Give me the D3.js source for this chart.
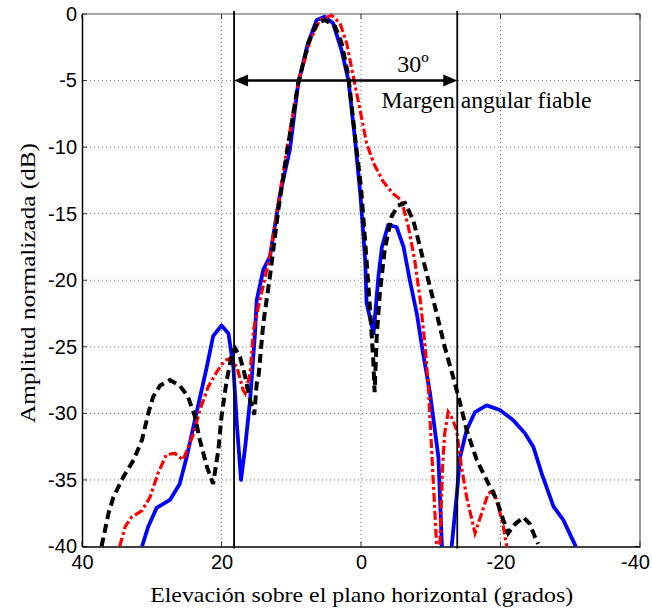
<!DOCTYPE html>
<html><head><meta charset="utf-8">
<script src="https://cdn.jsdelivr.net/npm/d3@7/dist/d3.min.js"></script>
<style>body{margin:0;background:#fff}</style>
</head><body>
<svg id="c" width="652" height="609"></svg>
<script>
// ---- data (elevation deg, normalized amplitude dB) ----
const xTicks = [40, 20, 0, -20, -40];
const yTicks = [0, -5, -10, -15, -20, -25, -30, -35, -40];
const xLabel = "Elevación sobre el plano horizontal (grados)";
const yLabel = "Amplitud normalizada (dB)";
const marginLines = [18.2, -13.8];
const arrowLevel = -5;
const annotAngle = "30º";
const annotText = "Margen angular fiable";

const blueSeries = [
[31.4,-40],[30.5,-38.5],[29.3,-37.1],[27.4,-36.5],[26.0,-35.3],[25.0,-33.3],[23.6,-30.0],[22.1,-26.5],
[21.2,-24.2],[20.0,-23.4],[19.0,-24.0],[18.3,-26.5],[17.8,-30.8],[17.2,-35.0],[16.6,-32.5],[15.9,-29.0],
[15.2,-24.0],[14.95,-21.5],[14.0,-19.2],[13.05,-18.2],[11.6,-13.5],[10.2,-10.2],[9.0,-5.2],[7.6,-2.2],
[6.35,-0.45],[5.2,-0.2],[4.0,-0.7],[2.8,-2.7],[1.8,-5.0],[0.9,-9.2],[0.1,-13.5],[-0.6,-18.5],
[-0.8,-21.7],[-1.8,-24.0],[-2.5,-19.7],[-3.0,-17.5],[-3.9,-15.85],[-5.1,-16.0],[-6.1,-17.5],[-7.0,-20.0],
[-8.0,-22.5],[-8.9,-25.5],[-9.9,-28.5],[-11.1,-33.3],[-11.6,-40],[-12.3,-46],[-13.0,-40],[-13.7,-36.3],
[-14.2,-33.3],[-15.15,-31.25],[-16.35,-29.9],[-18.0,-29.4],[-19.9,-29.75],[-21.8,-30.5],[-23.5,-31.5],
[-24.7,-32.5],[-25.9,-34.5],[-27.6,-37.0],[-29.0,-38.0],[-30.7,-39.9],[-31.0,-40.3]
];
const redSeries = [
[34.6,-40],[33.8,-38.5],[32.9,-37.8],[31.4,-37.3],[30.25,-36.3],[29.1,-34.5],[27.9,-33.1],[26.7,-33.0],
[25.5,-33.5],[24.0,-31.5],[23.1,-29.75],[21.9,-28.0],[20.7,-26.9],[19.5,-26.0],[18.8,-25.9],[17.8,-26.5],
[16.9,-28.25],[16.6,-28.5],[15.9,-27.0],[15.4,-23.7],[14.5,-21.5],[13.05,-18.2],[12.0,-14.7],[10.65,-10.2],
[9.0,-5.2],[7.3,-2.0],[5.9,-0.45],[4.2,-0.1],[3.0,-0.7],[2.05,-2.2],[1.1,-4.7],[0.14,-7.2],
[-0.8,-9.7],[-1.8,-11.2],[-3.2,-12.6],[-4.6,-13.5],[-5.8,-14.0],[-6.8,-16.0],[-7.7,-18.5],[-8.5,-21.5],
[-9.2,-25.0],[-9.65,-28.0],[-10.1,-32.5],[-10.6,-37.5],[-10.85,-40],[-11.0,-44],[-11.3,-40],[-11.7,-34],
[-12.0,-31.5],[-12.5,-29.9],[-13.0,-30.3],[-13.7,-31.25],[-14.4,-34.0],[-15.15,-36.3],[-16.35,-39.0],
[-17.3,-37.5],[-18.25,-36.0],[-19.0,-35.8],[-19.7,-37.0],[-20.4,-38.5],[-20.9,-40],[-21.0,-40.5]
];
const blackSeries = [
[37.2,-40],[36.2,-37.5],[35.5,-36.3],[34.1,-34.8],[32.6,-33.5],[31.4,-32.0],[30.5,-30.0],[29.8,-28.75],
[28.8,-27.9],[27.4,-27.5],[26.0,-27.9],[24.8,-28.75],[23.8,-30.25],[23.1,-32.0],[22.1,-34.0],[21.2,-35.3],
[20.45,-32.75],[20.0,-30.25],[19.25,-27.5],[18.5,-25.5],[18.07,-25.1],[17.35,-25.75],[16.6,-27.25],
[15.9,-29.0],[15.3,-30.1],[14.95,-27.75],[14.7,-27.25],[14.0,-23.2],[13.05,-19.7],[11.85,-14.7],
[10.4,-9.7],[9.0,-5.2],[7.56,-2.2],[6.35,-0.7],[5.16,-0.45],[3.7,-0.95],[2.77,-2.2],[1.8,-4.7],
[0.86,-9.2],[0.0,-13.0],[-0.8,-18.5],[-1.3,-22.2],[-1.76,-26],[-1.95,-28.4],[-2.25,-24.25],[-2.7,-21.0],
[-3.4,-17.7],[-4.4,-15.2],[-5.3,-14.4],[-6.3,-14.2],[-7.5,-15.5],[-8.46,-17.5],[-9.65,-20.0],
[-10.85,-22.5],[-12.0,-25.0],[-13.2,-27.25],[-14.0,-28.8],[-15.15,-31.25],[-16.6,-33.5],[-18.0,-35.0],
[-19.45,-36.5],[-20.4,-38.0],[-21.1,-39.0],[-22.1,-38.3],[-23.3,-37.8],[-24.2,-38.3],[-24.95,-39.3],
[-25.4,-39.8]
];

// ---- layout ----
const L = 82, R = 640, T = 14, B = 546.5;
const svg = d3.select("#c");
const x = d3.scaleLinear().domain([40, -40]).range([L, R]);
const y = d3.scaleLinear().domain([-40, 0]).range([B, T]);

svg.append("defs").append("clipPath").attr("id","clip")
  .append("rect").attr("x",L).attr("y",T-2).attr("width",R-L).attr("height",B-T+2);

// grid
const grid = svg.append("g").attr("stroke","#777").attr("stroke-width",1).attr("stroke-dasharray","1,3");
grid.selectAll(".gx").data(xTicks.slice(1,-1)).enter().append("line")
  .attr("x1",d=>x(d)).attr("x2",d=>x(d)).attr("y1",T).attr("y2",B);
grid.selectAll(".gy").data(yTicks.slice(1,-1)).enter().append("line")
  .attr("y1",d=>y(d)).attr("y2",d=>y(d)).attr("x1",L).attr("x2",R);

// frame (top/right gray)
svg.append("line").attr("x1",L).attr("x2",R).attr("y1",T).attr("y2",T).attr("stroke","#555").attr("stroke-width",1.2);
svg.append("line").attr("x1",R).attr("x2",R).attr("y1",T).attr("y2",B).attr("stroke","#555").attr("stroke-width",1.2);

// inward ticks
const tk = svg.append("g").attr("stroke","#333").attr("stroke-width",1);
xTicks.forEach(d=>{
  tk.append("line").attr("x1",x(d)).attr("x2",x(d)).attr("y1",B).attr("y2",B-5);
  tk.append("line").attr("x1",x(d)).attr("x2",x(d)).attr("y1",T).attr("y2",T+5);
});
yTicks.forEach(d=>{
  tk.append("line").attr("y1",y(d)).attr("y2",y(d)).attr("x1",L).attr("x2",L+5);
  tk.append("line").attr("y1",y(d)).attr("y2",y(d)).attr("x1",R).attr("x2",R-5);
});

// axes (labels)
const fontAx = "'Liberation Sans', Arial, sans-serif";
const gx = svg.append("g").attr("transform",`translate(0,${B})`)
  .call(d3.axisBottom(x).tickValues(xTicks).tickSize(0).tickPadding(8.5));
const gy = svg.append("g").attr("transform",`translate(${L},0)`)
  .call(d3.axisLeft(y).tickValues(yTicks).tickSize(0).tickPadding(5));
[gx,gy].forEach(g=>{
  g.select(".domain").attr("stroke","#000").attr("stroke-width",1.5);
  g.selectAll("text").attr("font-family",fontAx).attr("font-size",20).attr("fill","#000")
    .text(d=>String(d));
});
// keep the last x tick label inside the canvas
gx.selectAll(".tick text").filter(d=>d===xTicks[xTicks.length-1]).attr("dx",-5);

// curves
const line = d3.line().x(d=>x(d[0])).y(d=>y(d[1]));
const plot = svg.append("g").attr("clip-path","url(#clip)");
plot.append("path").datum(blueSeries).attr("d",line).attr("fill","none")
  .attr("stroke","#0000ff").attr("stroke-width",3.8).attr("stroke-linejoin","round");
plot.append("path").datum(redSeries).attr("d",line).attr("fill","none")
  .attr("stroke","#ff0000").attr("stroke-width",3.2).attr("stroke-dasharray","9,3,3,3");
plot.append("path").datum(blackSeries).attr("d",line).attr("fill","none")
  .attr("stroke","#000").attr("stroke-width",4).attr("stroke-dasharray","9,5");

// margin lines
svg.selectAll(".ml").data(marginLines).enter().append("line")
  .attr("x1",d=>x(d)).attr("x2",d=>x(d)).attr("y1",T-3).attr("y2",B+2)
  .attr("stroke","#000").attr("stroke-width",1.8);

// arrow
const ax1 = x(marginLines[0]), ax2 = x(marginLines[1]), ay = y(arrowLevel);
svg.append("line").attr("x1",ax1+10).attr("x2",ax2-10).attr("y1",ay).attr("y2",ay)
  .attr("stroke","#000").attr("stroke-width",2.5);
svg.append("path").attr("d",`M${ax1},${ay}L${ax1+14},${ay-6}L${ax1+14},${ay+6}Z`).attr("fill","#000");
svg.append("path").attr("d",`M${ax2},${ay}L${ax2-14},${ay-6}L${ax2-14},${ay+6}Z`).attr("fill","#000");

const fontSerif = "'Liberation Serif', 'Times New Roman', serif";
svg.append("text").attr("x",413).attr("y",71.5).attr("text-anchor","middle")
  .attr("font-family",fontSerif).attr("font-size",24).text(annotAngle);
svg.append("text").attr("x",381.5).attr("y",108.3).attr("text-anchor","start")
  .attr("font-family",fontSerif).attr("font-size",23)
  .attr("textLength",210).attr("lengthAdjust","spacingAndGlyphs").text(annotText);

// axis titles
svg.append("text").attr("x",361.7).attr("y",601.5).attr("text-anchor","middle")
  .attr("font-family",fontSerif).attr("font-size",21)
  .attr("textLength",423).attr("lengthAdjust","spacingAndGlyphs").text(xLabel);
svg.append("text").attr("transform",`translate(35,283) rotate(-90)`).attr("text-anchor","middle")
  .attr("font-family",fontSerif).attr("font-size",21)
  .attr("textLength",280).attr("lengthAdjust","spacingAndGlyphs").text(yLabel);
</script>
</body></html>
